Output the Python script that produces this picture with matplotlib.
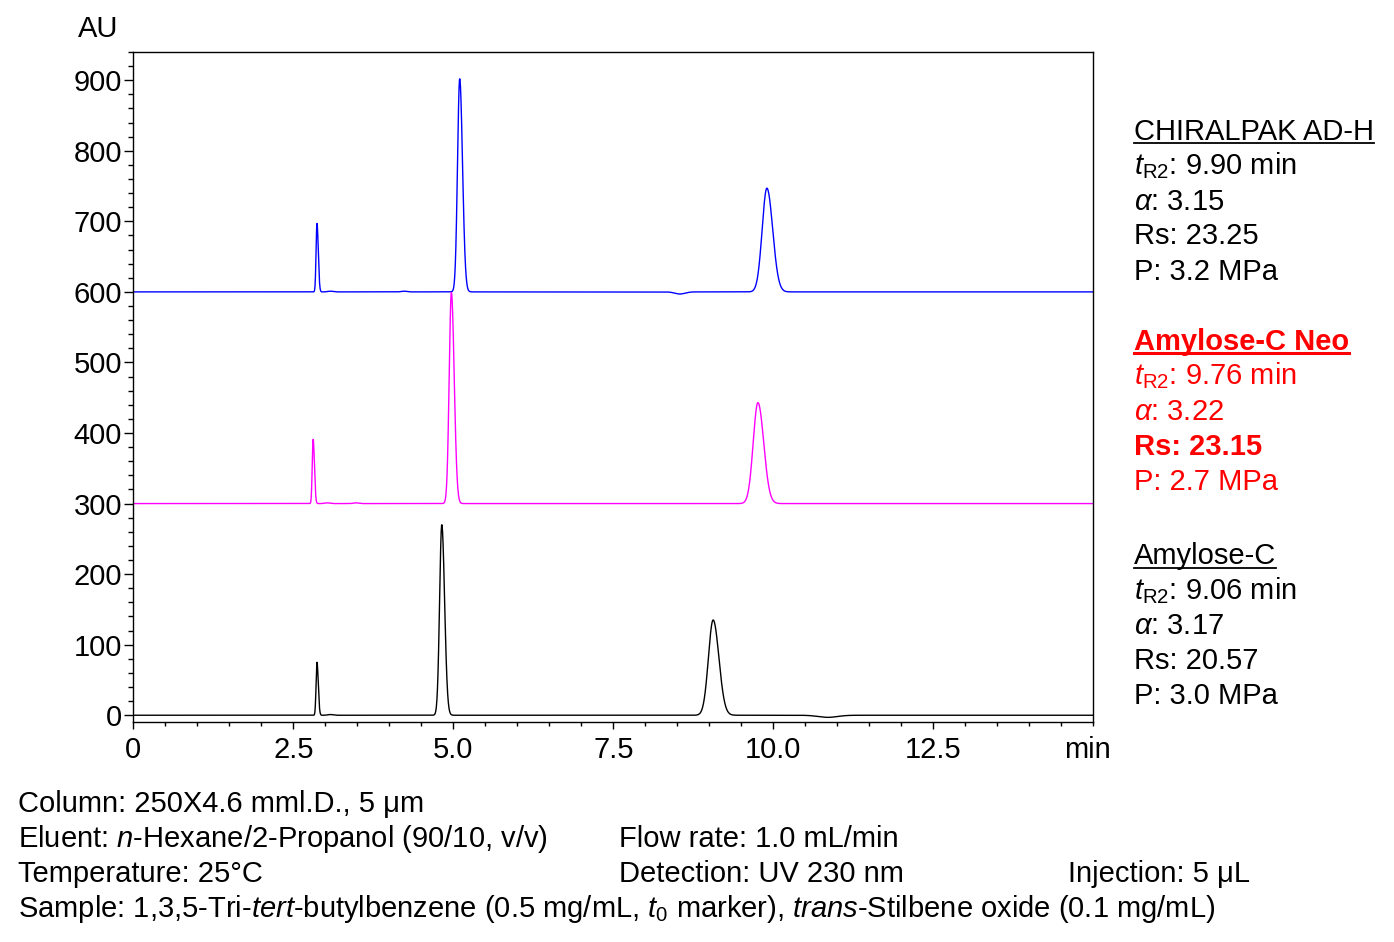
import numpy as np
import matplotlib
matplotlib.use("Agg")
import matplotlib.pyplot as plt
from matplotlib.lines import Line2D

plt.rcParams['font.family'] = ['Liberation Sans', 'DejaVu Sans']
plt.rcParams['mathtext.fontset'] = 'custom'
plt.rcParams['mathtext.rm'] = 'Liberation Sans'
plt.rcParams['mathtext.it'] = 'Liberation Sans:italic'
plt.rcParams['mathtext.bf'] = 'Liberation Sans:bold'

# ---------------- data ----------------
columns = ["CHIRALPAK AD-H", "Amylose-C Neo", "Amylose-C"]
trace_colors = ["#0000FF", "#FF00FF", "#000000"]
baselines = [600, 300, 0]

# retention times (min), peak heights (AU), left / right widths (min)
rt_adh = [2.87, 5.10, 9.90]
h_adh = [97, 302, 147]
rt_neo = [2.81, 4.97, 9.76]
h_neo = [91, 299, 143]
rt_c = [2.87, 4.82, 9.06]
h_c = [75, 270, 135]
sig_left = [0.014, 0.034, 0.074]
sig_right = [0.020, 0.044, 0.090]

# small baseline disturbances (time, height, width)
minor_adh = [(3.08, 1.0, 0.04), (4.23, 1.0, 0.04), (8.54, -3, 0.08)]
minor_neo = [(3.03, 1.0, 0.04), (3.48, 1.0, 0.04)]
minor_c = [(3.08, 1.0, 0.04), (10.85, -3, 0.15)]

# annotation block
stats_tr2 = ["9.90", "9.76", "9.06"]
stats_alpha = ["3.15", "3.22", "3.17"]
stats_rs = ["23.25", "23.15", "20.57"]
stats_p = ["3.2", "2.7", "3.0"]
block_colors = ["#000000", "#FF0000", "#000000"]

x_major = [0, 2.5, 5.0, 7.5, 10.0, 12.5]
x_labels = ["0", "2.5", "5.0", "7.5", "10.0", "12.5"]
y_major = [0, 100, 200, 300, 400, 500, 600, 700, 800, 900]

# ---------------- build traces ----------------
t = np.linspace(0, 15, 7501)


def trace(base, rts, hs, minors):
    y = np.full_like(t, float(base))
    for r, h, sl, sr in zip(rts, hs, sig_left, sig_right):
        s = np.where(t < r, sl, sr)
        y += h * np.exp(-0.5 * ((t - r) / s) ** 2)
    for r, h, s in minors:
        y += h * np.exp(-0.5 * ((t - r) / s) ** 2)
    return y


traces = [trace(baselines[0], rt_adh, h_adh, minor_adh),
          trace(baselines[1], rt_neo, h_neo, minor_neo),
          trace(baselines[2], rt_c, h_c, minor_c)]

W, H = 1394, 942
fig = plt.figure(figsize=(W / 100, H / 100), dpi=100)
ax = fig.add_axes([133.3 / W, 1 - 722.3 / H, (1093.3 - 133.3) / W, (722.3 - 52) / H])

for y, c in zip(traces, trace_colors):
    ax.plot(t, y, color=c, lw=1.0)

fs = 21
ax.set_xlim(0, 15)
ax.set_ylim(-10, 940)
ax.set_xticks(x_major)
ax.set_xticklabels(x_labels)
ax.set_xticks(np.arange(0, 15.01, 0.5), minor=True)
ax.set_yticks(y_major)
ax.set_yticks(np.arange(0, 941, 20), minor=True)
for s in ax.spines.values():
    s.set_linewidth(1.0)
ax.tick_params(axis='both', which='both', direction='out', width=1.0, labelsize=fs)
ax.tick_params(axis='y', which='major', length=6.5, pad=1.5)
ax.tick_params(axis='y', which='minor', length=3.6)
ax.tick_params(axis='x', which='major', length=5, pad=5)
ax.tick_params(axis='x', which='minor', length=3)

fig.text(98 / W, 1 - 37 / H, "AU", fontsize=fs, ha='center', va='baseline')
fig.text(1087 / W, 1 - 758 / H, "min", fontsize=fs, ha='center', va='baseline')

# right-hand annotation blocks
block_tops = [139.5, 349.5, 564]
line_gap = 35
underline_specs = []
for i in range(3):
    c = block_colors[i]
    b0 = block_tops[i]
    bold = (i == 1)
    head = fig.text(1134 / W, 1 - b0 / H, columns[i], fontsize=fs, color=c,
                    fontweight='bold' if bold else 'normal', ha='left', va='baseline')
    underline_specs.append((head, b0, c, 2.2 if bold else 1.3))
    lines = [r"$t_{\mathrm{R2}}$: " + stats_tr2[i] + " min",
             r"$\alpha$: " + stats_alpha[i],
             "Rs: " + stats_rs[i],
             "P: " + stats_p[i] + " MPa"]
    for j, txt in enumerate(lines):
        fw = 'bold' if (bold and j == 2) else 'normal'
        fig.text(1134 / W, 1 - (b0 + line_gap * (j + 1)) / H, txt, fontsize=fs,
                 color=c, fontweight=fw, ha='left', va='baseline')

# bottom conditions
bl = [812, 847, 882, 917]
fig.text(18 / W, 1 - bl[0] / H, "Column: 250X4.6 mml.D., 5 μm", fontsize=fs, va='baseline')
fig.text(18 / W, 1 - bl[1] / H, r"Eluent: $n$-Hexane/2-Propanol (90/10, v/v)", fontsize=fs, va='baseline')
fig.text(619 / W, 1 - bl[1] / H, "Flow rate: 1.0 mL/min", fontsize=fs, va='baseline')
fig.text(18 / W, 1 - bl[2] / H, "Temperature: 25°C", fontsize=fs, va='baseline')
fig.text(619 / W, 1 - bl[2] / H, "Detection: UV 230 nm", fontsize=fs, va='baseline')
fig.text(1068 / W, 1 - bl[2] / H, "Injection: 5 μL", fontsize=fs, va='baseline')
fig.text(18 / W, 1 - bl[3] / H,
         r"Sample: 1,3,5-Tri-$tert$-butylbenzene (0.5 mg/mL, $t_0$ marker), $trans$-Stilbene oxide (0.1 mg/mL)",
         fontsize=fs, va='baseline')

# underlines for the column names
fig.canvas.draw()
renderer = fig.canvas.get_renderer()
for txt, base, c, lw in underline_specs:
    bb = txt.get_window_extent(renderer)
    yy = 1 - (base + 3.8) / H
    fig.add_artist(Line2D([bb.x0 / W, bb.x1 / W], [yy, yy], transform=fig.transFigure,
                          color=c, lw=lw))

fig.savefig("out.png", dpi=100)
